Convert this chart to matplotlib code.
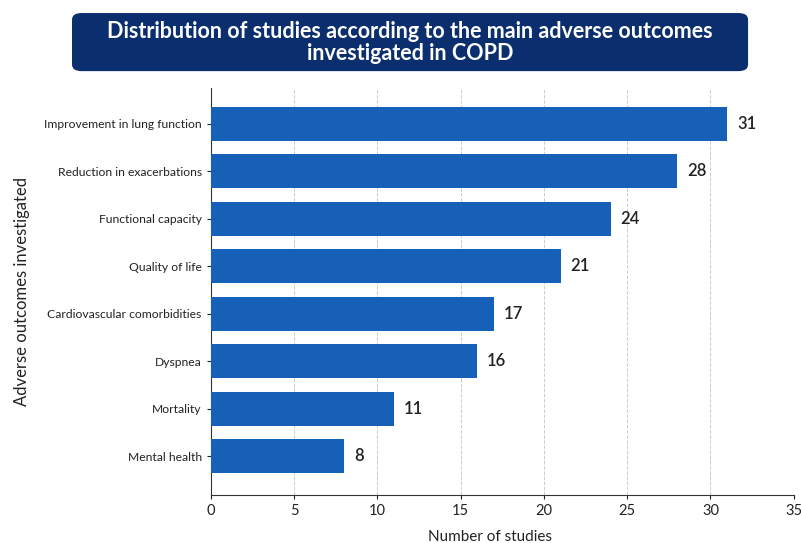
import matplotlib.pyplot as plt
from matplotlib.patches import FancyBboxPatch

plt.rcParams['font.family'] = ['Lato', 'DejaVu Sans']

outcomes = ['Mental health', 'Mortality', 'Dyspnea', 'Cardiovascular comorbidities',
            'Quality of life', 'Functional capacity', 'Reduction in exacerbations',
            'Improvement in lung function']
studies = [8, 11, 16, 17, 21, 24, 28, 31]
xticks = [0, 5, 10, 15, 20, 25, 30, 35]

fig = plt.figure(figsize=(8.01, 5.43), dpi=100)
ax = fig.add_axes([0.263, 0.0884, 0.728, 0.7495])

bars = ax.barh(outcomes, studies, height=0.71, color='#1660b8', zorder=3)
for b, v in zip(bars, studies):
    ax.text(b.get_width() + 0.6, b.get_y() + b.get_height() / 2, str(v),
            va='center', ha='left', fontsize=12, fontweight='semibold', color='#222222')

ax.set_xlim(0, 35)
ax.set_ylim(-0.815, 7.75)
ax.set_xticks(xticks)
ax.tick_params(axis='x', labelsize=10.5, colors='#222222', length=3)
ax.tick_params(axis='y', labelsize=8.7, colors='#222222', length=3)
ax.grid(axis='x', linestyle='--', color='#cccccc', linewidth=0.7, zorder=0)
for s in ['top', 'right']:
    ax.spines[s].set_visible(False)
for s in ['left', 'bottom']:
    ax.spines[s].set_color('#333333')
ax.set_xlabel('Number of studies', fontsize=11, color='#222222')
ax.xaxis.set_label_coords(0.479, -0.085)
ax.set_ylabel('Adverse outcomes investigated', fontsize=12, color='#222222')
ax.yaxis.set_label_coords(-0.31, 0.5)

# title box
box = FancyBboxPatch((0.0899, 0.869), 0.844, 0.107, boxstyle='round,pad=0,rounding_size=0.012',
                     transform=fig.transFigure, facecolor='#0b2e6e', edgecolor='none')
fig.patches.append(box)
fig.text(0.512, 0.922, 'Distribution of studies according to the main adverse outcomes\ninvestigated in COPD',
         ha='center', va='center', color='white', fontsize=15.5, fontweight='bold', linespacing=1.1)

fig.savefig('out.png', dpi=100)
